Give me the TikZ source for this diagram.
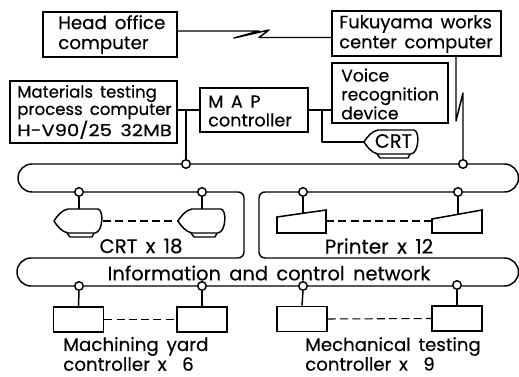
\documentclass[tikz,border=0pt]{standalone}
\usepackage{fontspec}
\usepackage{graphicx}
\setmainfont{Poppins}[WordSpace=1.6,FakeBold=0.35]
\tikzset{
  px/.style={x=0.75pt,y=-0.75pt},
  wire/.style={line width=1.1pt,line join=round},
  box/.style={draw,line width=1.15pt,inner sep=0pt,anchor=center},
  tag/.style={inner sep=0pt,align=left,anchor=west},
  tap/.style={circle,draw,fill=white,line width=1.1pt,minimum size=6.4pt,inner sep=0pt},
  dashline/.style={line width=0.8pt,dash pattern=on 6pt off 3.2pt},
  term/.style={box,minimum width=37.5pt,minimum height=18.8pt}
}
\newcommand\crtshape[3]{% tip x, tip y, width
  \draw[wire,fill=white] (#1+13,#2+12) -- (#1+16,#2+16) -- (#1+#3-11,#2+16) -- (#1+#3-9,#2+12);
  \draw[wire,fill=white] (#1+14,#2+12) -- (#1+#3-8,#2+12) .. controls (#1+#3,#2+11) and (#1+#3+1,#2-11) .. (#1+#3-5,#2-12)
    -- (#1+14,#2-12) .. controls (#1+8,#2-11) and (#1+3,#2-5) .. (#1,#2)
    .. controls (#1+3,#2+5) and (#1+8,#2+11) .. (#1+14,#2+12) -- cycle;
}
\begin{document}
\begin{tikzpicture}[px]
\useasboundingbox (0,0) rectangle (519,377);
% boxes
\node[box,minimum width=100.5pt,minimum height=33.5pt] (head) at (110,34.5) {};
\node[tag,font=\fontsize{13.7pt}{15pt}\selectfont] (headt) at (58,34.5) {Head office\\computer};
\node[box,minimum width=126.5pt,minimum height=33.5pt] (fuku) at (416.5,33.5) {};
\node[tag,font=\fontsize{13.4pt}{15pt}\selectfont] (fukut) at (339,34) {Fukuyama works\\center computer};
\node[box,minimum width=87pt,minimum height=45pt] (voice) at (390,93) {};
\node[tag,font=\fontsize{12.9pt}{14.2pt}\selectfont] (voicet) at (341,94) {Voice\\recognition\\device};
\node[box,minimum width=125pt,minimum height=46.5pt] (mat) at (93.5,112) {};
\node[tag,font=\fontsize{12.4pt}{13pt}\selectfont] (matt) at (17,112) {Materials testing\\process computer\\\scalebox{1.18}[1]{H-V90/25 32MB}};
\node[box,minimum width=81pt,minimum height=33pt] (map) at (254,110) {};
\node[tag,font=\fontsize{13.2pt}{14pt}\selectfont] (mapt) at (208,111) {M A P\\controller};
% network ring
\draw[wire,rounded corners=10.5pt] (100,164) -- (518.5,164) -- (518.5,192) [rounded corners=4.5pt] -- (259,192) -- (259,258) [rounded corners=10.5pt] -- (518.5,258) -- (518.5,286) -- (17,286) -- (17,258) [rounded corners=4.5pt] -- (244,258) -- (244,192) [rounded corners=10.5pt] -- (18,192) -- (18,164) -- cycle;
% taps
\node[tap] (t1) at (186,164) {};
\node[tap] (t2) at (463,164) {};
\node[tap] (c1) at (79,192) {};
\node[tap] (c2) at (202,192) {};
\node[tap] (p1) at (303,192) {};
\node[tap] (p2) at (458,192) {};
\node[tap] (m1) at (79,286) {};
\node[tap] (m2) at (202,286) {};
\node[tap] (n1) at (303,286) {};
\node[tap] (n2) at (457,285) {};
% upper links
\coordinate (z1) at (259,31);
\coordinate (z2) at (234,38);
\coordinate (z3) at (269,30);
\coordinate (z4) at (259,37.5);
\draw[wire] (head.east |- z1) -- (z1) -- (z2) -- (z3) -- (z4) -- (fuku.west |- z4);
\coordinate (y1) at (456,121);
\coordinate (y2) at (463,93);
\draw[wire] (y1 |- fuku.south) -- (y1) -- (y2) -- (t2.north);
\draw[wire] (mat.east |- map.west) -- (map.west);
\coordinate (j1) at (186,110);
\draw[wire] (t1.north) -- (j1);
\draw[wire] (map.east) -- (voice.west |- map.east);
\crtshape{364}{142}{55}
\coordinate (cr) at (364,142);
\coordinate (j2) at (322,110);
\draw[wire] (j2) -- (322,142) -- (cr);
\node[font=\fontsize{14.5pt}{14pt}\selectfont,inner sep=0pt] (crt0) at (393.5,141) {CRT};
% CRT row
\crtshape{54}{221}{49}
\crtshape{178}{221}{48}
\coordinate (ca) at (79,209);
\coordinate (cb) at (202,209);
\draw[wire] (c1.south) -- (ca);
\draw[wire] (c2.south) -- (cb);
\coordinate (cc) at (103,221);
\coordinate (cd) at (178,221);
\draw[dashline] (cc) -- (cd);
\node[inner sep=0pt,font=\fontsize{14.8pt}{14pt}\selectfont] (crtl) at (141,246) {CRT x 18};
% printers
\draw[box] (277,217) -- (326,210) -- (326,233) -- (277,233) -- cycle;
\draw[box] (432,219) -- (482,210) -- (482,233) -- (432,233) -- cycle;
\coordinate (pa) at (303,213);
\coordinate (pb) at (458,214);
\draw[wire] (p1.south) -- (pa);
\draw[wire] (p2.south) -- (pb);
\coordinate (pc) at (326,221);
\coordinate (pd) at (432,221);
\draw[dashline] (pc) -- (pd);
\node[inner sep=0pt,font=\fontsize{15pt}{14pt}\selectfont] (prl) at (379,246) {Printer x 12};
% network label
\node[inner sep=0pt,font=\fontsize{14.6pt}{14pt}\selectfont] (netl) at (269,273) {Information and control network};
% controllers
\node[term] (b1) at (78.5,319.5) {};
\node[term] (b2) at (202,319.5) {};
\node[term] (b3) at (302,319) {};
\node[term] (b4) at (457,318.5) {};
\draw[wire] (m1.south) -- (b1.north);
\draw[wire] (m2.south) -- (b2.north);
\draw[wire] (n1.south) -- (b3.north);
\draw[wire] (n2.south) -- (b4.north);
\draw[dashline] (b1.east) -- (b2.west);
\draw[dashline] (b3.east) -- (b4.west);
\node[tag,font=\fontsize{13.7pt}{13pt}\selectfont] (ml) at (63,354) {Machining yard\\controller x\ \ 6};
\node[tag,font=\fontsize{13.6pt}{13pt}\selectfont] (ne) at (305,354) {Mechanical testing\\controller x\ \ 9};
\end{tikzpicture}
\end{document}
